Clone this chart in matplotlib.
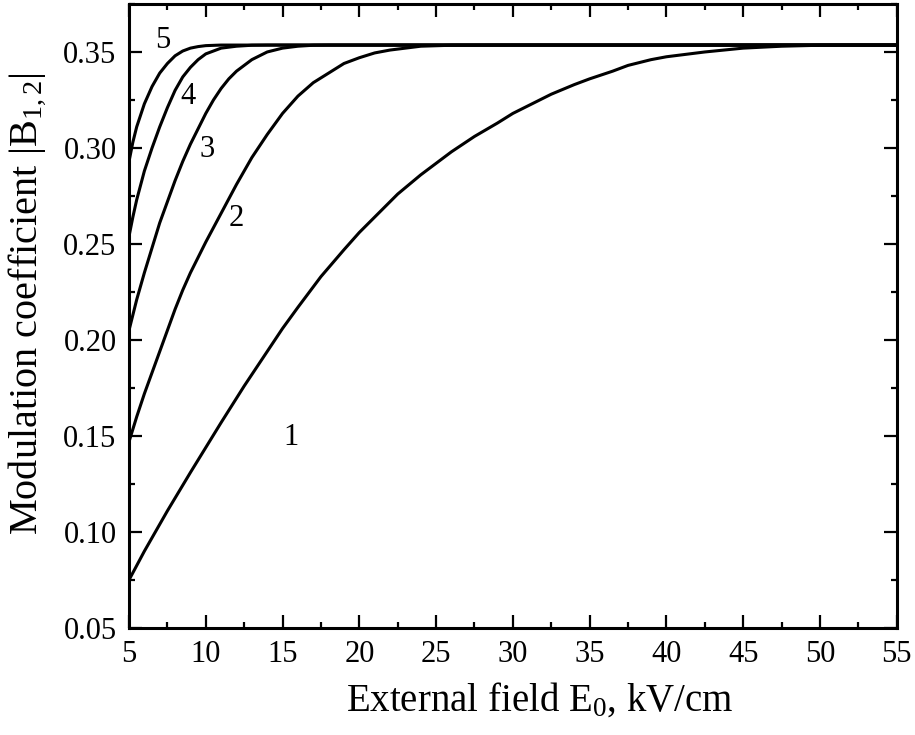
import numpy as np
import matplotlib
matplotlib.use("Agg")
import matplotlib.pyplot as plt
from matplotlib.ticker import MultipleLocator, FormatStrFormatter

plt.rcParams["font.family"] = ["Liberation Serif", "DejaVu Serif"]
plt.rcParams["mathtext.fontset"] = "custom"
plt.rcParams["mathtext.rm"] = "Liberation Serif"
plt.rcParams["mathtext.it"] = "Liberation Serif:italic"

# values
e1 = [5, 6, 7.5, 9, 10, 11, 12.5, 14, 15, 16, 17.5, 19, 20, 21.5, 22.5, 24, 25, 26,
      27.5, 29, 30, 31, 32.5, 34, 35, 36.5, 37.5, 39, 40, 42.5, 45, 47.5, 50, 52.5, 55]
b1 = [0.075, 0.090, 0.111, 0.131, 0.144, 0.157, 0.176, 0.194, 0.206, 0.217, 0.233,
      0.247, 0.256, 0.268, 0.276, 0.286, 0.292, 0.298, 0.306, 0.313, 0.318, 0.322,
      0.328, 0.333, 0.336, 0.340, 0.343, 0.346, 0.3475, 0.350, 0.352, 0.353, 0.3535,
      0.3536, 0.3536]

e2 = [5, 5.5, 6, 6.5, 7, 7.5, 8, 8.5, 9, 9.5, 10, 11, 12, 13, 14, 15, 16, 17, 18,
      19, 20, 21, 22, 24, 26, 30, 55]
b2 = [0.147, 0.160, 0.172, 0.183, 0.194, 0.205, 0.216, 0.226, 0.235, 0.243, 0.251,
      0.266, 0.281, 0.295, 0.307, 0.318, 0.327, 0.334, 0.339, 0.344, 0.347, 0.3495,
      0.351, 0.353, 0.3535, 0.3536, 0.3536]

e3 = [5, 5.5, 6, 6.5, 7, 7.5, 8, 8.5, 9, 9.5, 10, 10.5, 11, 11.5, 12, 13, 14, 15,
      16, 17, 18, 55]
b3 = [0.205, 0.221, 0.235, 0.248, 0.261, 0.272, 0.283, 0.293, 0.302, 0.310, 0.318,
      0.325, 0.331, 0.336, 0.340, 0.346, 0.350, 0.352, 0.353, 0.3535, 0.3536, 0.3536]

e4 = [5, 5.25, 5.5, 6, 6.5, 7, 7.5, 8, 8.5, 9, 9.5, 10, 10.5, 11, 12, 13, 14, 55]
b4 = [0.254, 0.264, 0.273, 0.288, 0.300, 0.311, 0.321, 0.330, 0.337, 0.342, 0.346,
      0.349, 0.3505, 0.352, 0.353, 0.3535, 0.3536, 0.3536]

e5 = [5, 5.25, 5.5, 6, 6.5, 7, 7.5, 8, 8.5, 9, 9.5, 10, 11, 55]
b5 = [0.293, 0.303, 0.311, 0.323, 0.332, 0.339, 0.344, 0.348, 0.3505, 0.352, 0.3528,
      0.3533, 0.3536, 0.3536]

curve_labels = ["1", "2", "3", "4", "5"]
label_e = [15.55, 11.97, 10.08, 8.84, 7.2]
label_b = [0.149, 0.2635, 0.299, 0.3266, 0.356]

fig = plt.figure(figsize=(9.15, 7.35), dpi=100)
ax = fig.add_axes([0.141, 0.1456, 0.839, 0.849])

for e, b in [(e1, b1), (e2, b2), (e3, b3), (e4, b4), (e5, b5)]:
    ax.plot(e, b, color="black", lw=2.2, solid_joinstyle="round")

for lab, x, y in zip(curve_labels, label_e, label_b):
    ax.text(x, y, lab, fontsize=22, ha="center", va="center")

ax.set_xlim(5, 55)
ax.set_ylim(0.05, 0.375)
ax.xaxis.set_major_locator(MultipleLocator(5))
ax.xaxis.set_minor_locator(MultipleLocator(2.5))
ax.yaxis.set_major_locator(MultipleLocator(0.05))
ax.yaxis.set_minor_locator(MultipleLocator(0.025))
ax.yaxis.set_major_formatter(FormatStrFormatter("%.2f"))

ax.tick_params(which="both", direction="in", top=True, right=True,
               labelsize=22, width=1.6, pad=9)
ax.tick_params(which="major", length=9.5)
ax.tick_params(which="minor", length=4.5)
for s in ax.spines.values():
    s.set_linewidth(2.2)

ax.set_xlabel("External field E$_0$, kV/cm", fontsize=28)
ax.set_ylabel("Modulation coefficient |B$_{1,2}$|", fontsize=29)
ax.xaxis.set_label_coords(0.535, -0.085)
ax.yaxis.set_label_coords(-0.106, 0.52)

fig.savefig("out.png", dpi=100)
